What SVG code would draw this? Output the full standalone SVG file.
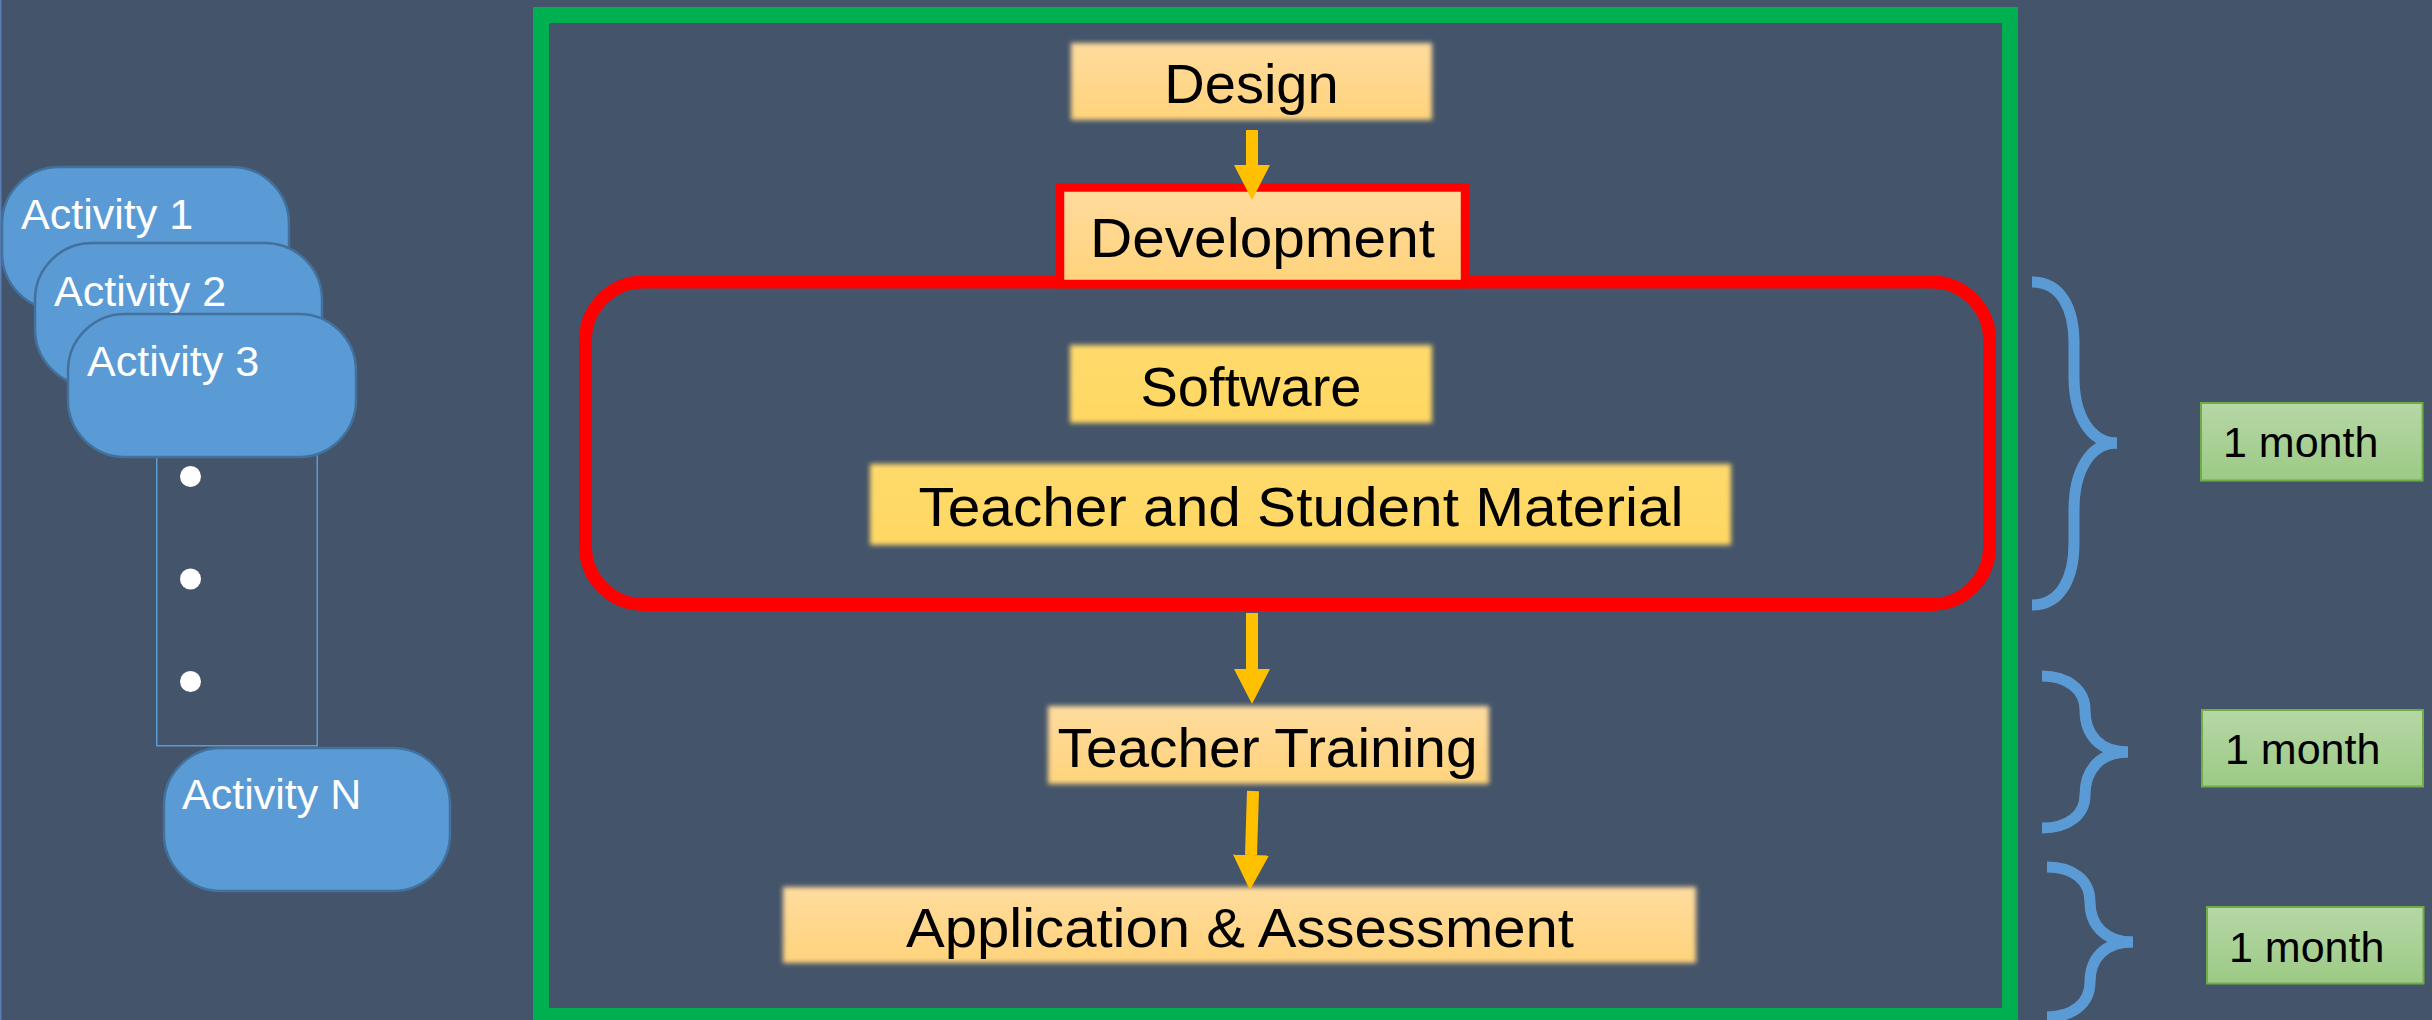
<svg xmlns="http://www.w3.org/2000/svg" width="2432" height="1020" viewBox="0 0 2432 1020">
  <defs>
    <style>
      .step-text { font-family: "Liberation Sans", Arial, sans-serif; font-size: 56px; fill: #000; text-anchor: middle; }
      .act-shape { fill: #5B9BD5; stroke: #41719C; stroke-width: 2.5; }
      .act-text { font-family: "Liberation Sans", Arial, sans-serif; font-size: 43px; fill: #fff; }
      .month-box { fill: url(#greenGrad); stroke: #70AD47; stroke-width: 2; }
      .month-text { font-family: "Liberation Sans", Arial, sans-serif; font-size: 43px; fill: #000; }
      .brace { fill: none; stroke: #5B9BD5; stroke-width: 11; stroke-linecap: butt; }
      .flow { stroke: #FFC000; stroke-width: 12; fill: none; marker-end: url(#head); }
      .soft { filter: url(#softEdge); }
    </style>
    <linearGradient id="peachGrad" x1="0" y1="0" x2="0" y2="1">
      <stop offset="0" stop-color="#FFDC9E"/>
      <stop offset="1" stop-color="#FFD37C"/>
    </linearGradient>
    <linearGradient id="goldGrad" x1="0" y1="0" x2="0" y2="1">
      <stop offset="0" stop-color="#FFDA6C"/>
      <stop offset="1" stop-color="#FFD862"/>
    </linearGradient>
    <linearGradient id="greenGrad" x1="0" y1="0" x2="0" y2="1">
      <stop offset="0" stop-color="#B6D7A6"/>
      <stop offset="1" stop-color="#9CCA85"/>
    </linearGradient>
    <filter id="softEdge" x="-5%" y="-20%" width="110%" height="140%">
      <feGaussianBlur stdDeviation="2.5"/>
    </filter>
    <marker id="head" markerUnits="userSpaceOnUse" markerWidth="36" markerHeight="36" viewBox="0 0 36 36" refX="0" refY="18" orient="auto">
      <path d="M0,0 L35,18 L0,36 Z" fill="#FFC000"/>
    </marker>
  </defs>

  <!-- slide background -->
  <rect x="0" y="0" width="2432" height="1020" fill="#44546A"/>
  <line x1="0.75" y1="0" x2="0.75" y2="1020" stroke="#5B7FB5" stroke-width="1.5"/>

  <!-- outer process frame -->
  <rect id="process-frame" x="541" y="15" width="1469" height="1001" fill="none" stroke="#00B050" stroke-width="16"/>

  <!-- development phase container -->
  <rect id="development-scope" x="585.5" y="282" width="1404" height="322.5" rx="58" ry="58" fill="none" stroke="#FF0000" stroke-width="13"/>

  <!-- process steps -->
  <g id="design">
    <rect class="soft" x="1071" y="43" width="361" height="77" fill="url(#peachGrad)"/>
    <text class="step-text" x="1251.5" y="103">Design</text>
  </g>

  <g id="development">
    <rect x="1060" y="187.5" width="405" height="96.5" fill="url(#peachGrad)" stroke="#FF0000" stroke-width="8.5"/>
    <text class="step-text" x="1262.5" y="257" textLength="345" lengthAdjust="spacingAndGlyphs">Development</text>
  </g>

  <g id="software">
    <rect class="soft" x="1070" y="345" width="362" height="78" fill="url(#goldGrad)"/>
    <text class="step-text" x="1251" y="405.5">Software</text>
  </g>

  <g id="teacher-student-material">
    <rect class="soft" x="870" y="464" width="861" height="81" fill="url(#goldGrad)"/>
    <text class="step-text" x="1301" y="525.5" textLength="765" lengthAdjust="spacingAndGlyphs">Teacher and Student Material</text>
  </g>

  <g id="teacher-training">
    <rect class="soft" x="1048" y="706" width="441" height="78" fill="url(#peachGrad)"/>
    <text class="step-text" x="1267.5" y="766.5" textLength="420" lengthAdjust="spacingAndGlyphs">Teacher Training</text>
  </g>

  <g id="application-assessment">
    <rect class="soft" x="783" y="887" width="913" height="76" fill="url(#peachGrad)"/>
    <text class="step-text" x="1240" y="946.5" textLength="668" lengthAdjust="spacingAndGlyphs">Application &amp; Assessment</text>
  </g>

  <!-- activity stack -->
  <g id="activity-1">
    <rect class="act-shape" x="2" y="167" width="287" height="143" rx="57" ry="57"/>
    <text class="act-text" x="21" y="229">Activity 1</text>
  </g>
  <g id="activity-2">
    <rect class="act-shape" x="35" y="243" width="287" height="143" rx="57" ry="57"/>
    <text class="act-text" x="54" y="305.5">Activity 2</text>
  </g>
  <g id="activity-ellipsis">
    <rect x="156.75" y="420" width="160.5" height="325.75" fill="none" stroke="#5B9BD5" stroke-width="1.5"/>
    <circle cx="190.5" cy="476.5" r="10.5" fill="#fff"/>
    <circle cx="190.5" cy="579" r="10.5" fill="#fff"/>
    <circle cx="190.5" cy="681.5" r="10.5" fill="#fff"/>
  </g>
  <g id="activity-3">
    <rect class="act-shape" x="68" y="314" width="288" height="143" rx="57" ry="57"/>
    <text class="act-text" x="87" y="376">Activity 3</text>
  </g>
  <g id="activity-n">
    <rect class="act-shape" x="164" y="748" width="286" height="143" rx="57" ry="57"/>
    <text class="act-text" x="182" y="809">Activity N</text>
  </g>

  <!-- duration braces -->
  <g id="brace-development">
    <path class="brace" d="M2032,282 C2062,282 2074,310 2074,343 L2074,377 C2074,415 2090,443 2117,443"/>
    <path class="brace" d="M2117,443 C2090,443 2074,471 2074,510 L2074,543 C2074,576 2062,605 2032,605"/>
  </g>
  <g id="brace-training">
    <path class="brace" d="M2042,676 C2068,676 2085,690 2085,710 C2085,735 2100,752 2128,752"/>
    <path class="brace" d="M2128,752 C2100,752 2085,770 2085,795 C2085,815 2068,828 2042,828"/>
  </g>
  <g id="brace-application">
    <path class="brace" d="M2047,867 C2073,867 2090,880 2090,902 C2090,925 2105,942 2133,942"/>
    <path class="brace" d="M2133,942 C2105,942 2090,958 2090,982 C2090,1003 2073,1017 2047,1017"/>
  </g>

  <!-- durations -->
  <g id="duration-development">
    <rect class="month-box" x="2201" y="403" width="221.5" height="77.5"/>
    <text class="month-text" x="2223" y="456.5">1 month</text>
  </g>
  <g id="duration-training">
    <rect class="month-box" x="2202" y="710" width="221" height="76.5"/>
    <text class="month-text" x="2225" y="764">1 month</text>
  </g>
  <g id="duration-application">
    <rect class="month-box" x="2207" y="907" width="216.5" height="76.5"/>
    <text class="month-text" x="2229" y="961.5">1 month</text>
  </g>

  <!-- flow arrows -->
  <g id="connectors">
    <line class="flow" x1="1252" y1="130" x2="1252" y2="165"/>
    <line class="flow" x1="1252" y1="613" x2="1252" y2="669"/>
    <line class="flow" x1="1253" y1="791" x2="1251" y2="855"/>
  </g>
</svg>
